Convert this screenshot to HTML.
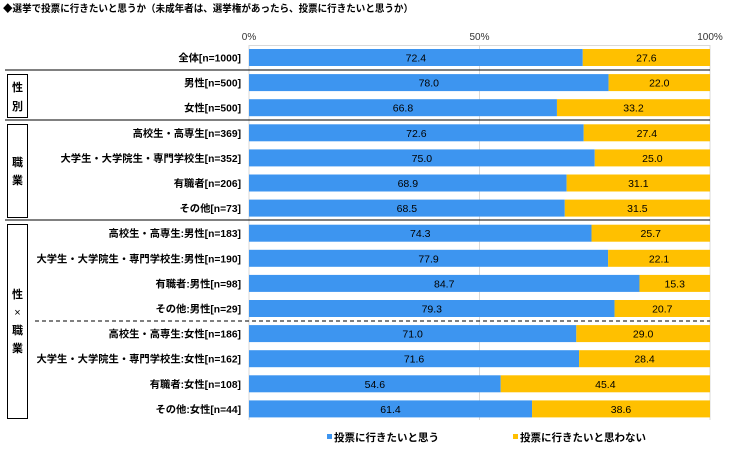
<!DOCTYPE html>
<html><head><meta charset="utf-8"><style>
html,body{margin:0;padding:0;background:#fff;}
svg{display:block;font-family:"Liberation Sans","Noto Sans CJK JP",sans-serif;}
</style></head><body>
<svg id="chart" width="738" height="452" viewBox="0 0 738 452">
<text x="3" y="12" font-size="10" font-weight="bold" fill="#000" textLength="410" lengthAdjust="spacingAndGlyphs">◆選挙で投票に行きたいと思うか（未成年者は、選挙権があったら、投票に行きたいと思うか）</text>
<g id="axis"></g>
<g id="bars"></g>
<g id="labels"></g>
<g stroke="#000" stroke-width="1">
<line x1="5" y1="70" x2="710" y2="70"/>
<line x1="5" y1="120" x2="710" y2="120"/>
<line x1="5" y1="220" x2="710" y2="220"/>
<line x1="35" y1="321" x2="710" y2="321" stroke-dasharray="4,3"/>
</g>
<g fill="none" stroke="#000" stroke-width="1" font-size="11" font-weight="bold">
<rect x="7.5" y="74.5" width="20" height="43"/>
<text x="17.5" y="91" text-anchor="middle" fill="#000" stroke="none">性</text>
<text x="17.5" y="110" text-anchor="middle" fill="#000" stroke="none">別</text>
<rect x="7.5" y="124.5" width="20" height="93"/>
<text x="17.5" y="166" text-anchor="middle" fill="#000" stroke="none">職</text>
<text x="17.5" y="184" text-anchor="middle" fill="#000" stroke="none">業</text>
<rect x="7.5" y="224.5" width="20" height="194"/>
<text x="17.5" y="298" text-anchor="middle" fill="#000" stroke="none">性</text>
<text x="17.5" y="316" text-anchor="middle" fill="#000" stroke="none" font-weight="normal">×</text>
<text x="17.5" y="334" text-anchor="middle" fill="#000" stroke="none">職</text>
<text x="17.5" y="352" text-anchor="middle" fill="#000" stroke="none">業</text>
</g>
<g font-size="10.5" font-weight="bold">
<rect x="327" y="434" width="5" height="5" fill="#3d95f0"/>
<text x="334" y="441" fill="#000">投票に行きたいと思う</text>
<rect x="513" y="434" width="5" height="5" fill="#ffc000"/>
<text x="520" y="441" fill="#000">投票に行きたいと思わない</text>
</g>
</svg>
<script>
const categories = ["全体[n=1000]","男性[n=500]","女性[n=500]","高校生・高専生[n=369]","大学生・大学院生・専門学校生[n=352]","有職者[n=206]","その他[n=73]","高校生・高専生:男性[n=183]","大学生・大学院生・専門学校生:男性[n=190]","有職者:男性[n=98]","その他:男性[n=29]","高校生・高専生:女性[n=186]","大学生・大学院生・専門学校生:女性[n=162]","有職者:女性[n=108]","その他:女性[n=44]"];
const yesValues = [72.4,78.0,66.8,72.6,75.0,68.9,68.5,74.3,77.9,84.7,79.3,71.0,71.6,54.6,61.4];
const noValues = [27.6,22.0,33.2,27.4,25.0,31.1,31.5,25.7,22.1,15.3,20.7,29.0,28.4,45.4,38.6];
const tickValues = [0,50,100];
const tickLabels = ["0%","50%","100%"];

const NS = "http://www.w3.org/2000/svg";
const X0 = 249, X1 = 710;
function xScale(v){ return X0 + (X1 - X0) * v / 100; }
function yCenter(i){ return 57.5 + i * 25.1; }
const BH = 17;
function mk(tag, attrs, parent){ const e = document.createElementNS(NS, tag); for (const k in attrs) e.setAttribute(k, attrs[k]); parent.appendChild(e); return e; }

const axis = document.getElementById('axis');
tickValues.forEach((t, i) => {
  const tx = mk('text', {x: xScale(t), y: 40, 'font-size': 10, 'text-anchor': 'middle', fill: '#333'}, axis);
  tx.textContent = tickLabels[i];
  
  
  const gl = mk('line', {x1: xScale(t), y1: 45, x2: xScale(t), y2: 420, stroke: '#d9d9d9', 'stroke-width': 1}, axis);
  
  
});
const topLine = mk('line', {x1: X0, y1: 45.5, x2: X1, y2: 45.5, stroke: '#d9d9d9'}, axis);



const bars = document.getElementById('bars');
const labels = document.getElementById('labels');
categories.forEach((c, i) => {
  const yc = yCenter(i);
  const y = yc - BH / 2;
  const yv = yesValues[i], nv = noValues[i];
  const b1 = mk('rect', {x: xScale(0), y: y, width: xScale(yv) - xScale(0), height: BH, fill: '#3d95f0'}, bars);
  
  
  const b2 = mk('rect', {x: xScale(yv), y: y, width: xScale(yv + nv) - xScale(yv), height: BH, fill: '#ffc000'}, bars);
  
  
  const t1 = mk('text', {x: (xScale(0) + xScale(yv)) / 2, y: yc + 4, 'font-size': 10.5, 'text-anchor': 'middle', fill: '#000'}, bars);
  t1.textContent = yv.toFixed(1);
  
  
  const t2 = mk('text', {x: (xScale(yv) + xScale(yv + nv)) / 2, y: yc + 4, 'font-size': 10.5, 'text-anchor': 'middle', fill: '#000'}, bars);
  t2.textContent = nv.toFixed(1);
  
  
  const lb = mk('text', {x: 241, y: yc + 4, 'font-size': 10.3, 'font-weight': 'bold', 'text-anchor': 'end', fill: '#000'}, labels);
  lb.textContent = c;
  
  
});
</script>
</body></html>
